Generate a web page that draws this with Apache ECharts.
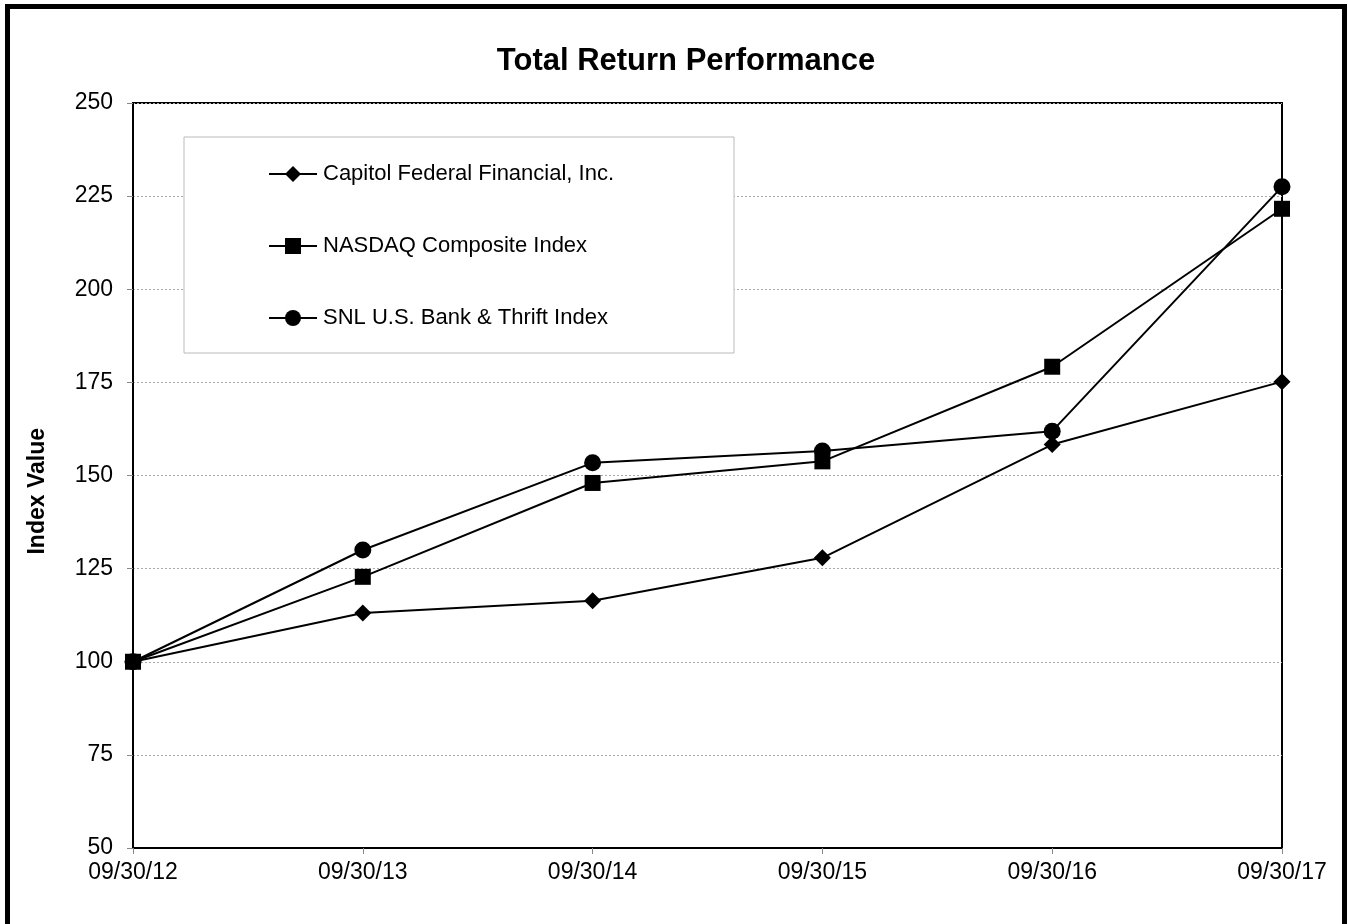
<!DOCTYPE html>
<html><head><meta charset="utf-8">
<script src="https://cdn.jsdelivr.net/npm/echarts@6/dist/echarts.min.js"></script>
<style>
html,body{margin:0;padding:0;background:#fff;}
#frame{position:absolute;left:5px;top:4px;width:1342px;height:940px;border:5px solid #000;border-bottom:none;box-sizing:border-box;}
#c{position:absolute;left:0;top:0;width:1348px;height:924px;}
</style></head>
<body>
<div id="frame"></div>
<div id="c"></div>
<script>
const categories = ['09/30/12','09/30/13','09/30/14','09/30/15','09/30/16','09/30/17'];
const capitolFederal = [100, 113.1, 116.4, 127.9, 158.3, 175.2];
const nasdaq = [100, 122.8, 148.0, 153.8, 179.2, 221.6];
const snlBankThrift = [100, 130.0, 153.4, 156.6, 161.9, 227.5];
const seriesNames = ['Capitol Federal Financial, Inc.', 'NASDAQ Composite Index', 'SNL U.S. Bank & Thrift Index'];

const chart = echarts.init(document.getElementById('c'), null, {renderer:'canvas'});
const font = 'Liberation Sans, Arial, sans-serif';
function mkSeries(name, data, symbol, size){
  return {name, type:'line', data, symbol, symbolSize:size, showSymbol:true,
    lineStyle:{color:'#000', width:2}, itemStyle:{color:'#000'}, z:3, animation:false};
}
chart.setOption({
  animation:false,
  backgroundColor:'transparent',
  title:{text:'Total Return Performance', left:681, top:41, textAlign:'center',
    textStyle:{fontFamily:font, fontSize:31, fontWeight:'bold', color:'#000'}},
  graphic:[{type:'text', left:26, top:428, rotation:Math.PI/2,
    style:{text:'Index Value', fontFamily:font, fontSize:23, fontWeight:'bold', fill:'#000'}}],
  grid:{left:133, right:66, top:103, bottom:76, show:true, borderColor:'#000', borderWidth:2, backgroundColor:'transparent'},
  legend:{
    orient:'vertical', left:184, top:137,
    padding:[26,120,24,84], itemGap:50, itemWidth:48, itemHeight:20,
    borderColor:'#bbb', borderWidth:1, backgroundColor:'#fff',
    textStyle:{fontFamily:font, fontSize:22, color:'#000', padding:[0,0,0,1]},
    data: seriesNames
  },
  xAxis:{type:'category', data:categories, boundaryGap:false,
    axisLine:{lineStyle:{color:'#000', width:2}},
    axisTick:{show:true, length:6, lineStyle:{color:'#888'}},
    axisLabel:{fontFamily:font, fontSize:23, color:'#000', margin:13},
    splitLine:{show:false}},
  yAxis:{type:'value', min:50, max:250, interval:25,
    axisLine:{show:true, lineStyle:{color:'#000', width:2}},
    axisTick:{show:true, length:6, lineStyle:{color:'#888'}},
    axisLabel:{fontFamily:font, fontSize:23, color:'#000', margin:20},
    splitLine:{show:true, lineStyle:{color:'#aaa', type:[2,2], width:1}}},
  series:[
    mkSeries(seriesNames[0], capitolFederal, 'diamond', 17),
    mkSeries(seriesNames[1], nasdaq, 'rect', 16),
    mkSeries(seriesNames[2], snlBankThrift, 'circle', 17)
  ]
});
</script>
</body></html>
